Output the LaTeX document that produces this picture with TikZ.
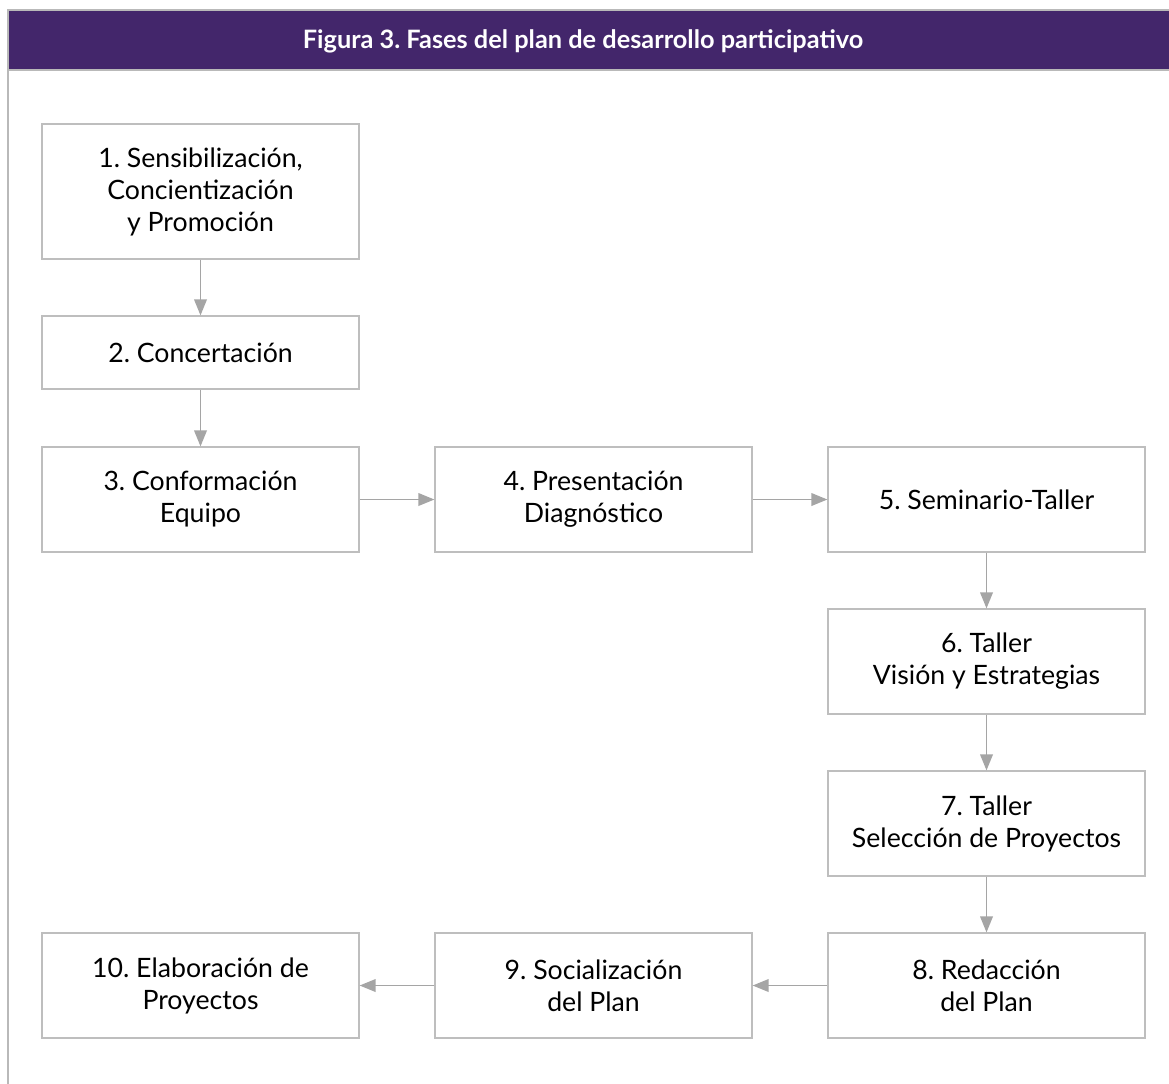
\documentclass[tikz,border=0pt]{standalone}
\usepackage{fontspec}
\setmainfont{Lato}
\usetikzlibrary{arrows.meta}
\definecolor{npurple}{RGB}{67, 38, 107}
\definecolor{nframe}{RGB}{185, 185, 185}
\definecolor{nbox}{RGB}{190, 190, 190}
\definecolor{narrow}{RGB}{165, 165, 165}
\frenchspacing

\begin{document}
\begin{tikzpicture}[x=0.75pt, y=-0.75pt,
    phase/.style={draw=nbox, line width=0.9pt, align=center, inner sep=2pt,
        minimum width=237.75pt, font=\fontsize{20}{24}\selectfont},
    flow/.style={draw=narrow, line width=1.1pt, -{Triangle[length=12pt, width=9.5pt]}}]
    \useasboundingbox (0,0) rectangle (1169,1083);
    \draw [nframe, line width=1.2pt] (8,1090) -- (8,10);
    \draw [fill=npurple, draw=nframe, line width=1.2pt] (8,10) rectangle (1180,70);
    \node [text=white, font=\fontsize{19}{22}\selectfont\bfseries] (title) at (583,41) {Figura 3. Fases del plan de desarrollo participativo};

    \node [phase, minimum height=101.25pt] (p1) at (200.5,191.5) {1. Sensibilización,\\Concientización\\y Promoción};
    \node [phase, minimum height=54.75pt] (p2) at (200.5,352.5) {2. Concertación};
    \node [phase, minimum height=78.75pt] (p3) at (200.5,499.5) {3. Conformación\\Equipo};
    \node [phase, minimum height=78.75pt] (p4) at (593.5,499.5) {4. Presentación\\Diagnóstico};
    \node [phase, minimum height=78.75pt] (p5) at (986.5,499.5) {5. Seminario-Taller};
    \node [phase, minimum height=78.75pt] (p6) at (986.5,661.5) {6. Taller\\Visión y Estrategias};
    \node [phase, minimum height=78.75pt] (p7) at (986.5,823.5) {7. Taller\\Selección de Proyectos};
    \node [phase, minimum height=78.75pt] (p8) at (986.5,985.5) {8. Redacción\\del Plan};
    \node [phase, minimum height=78.75pt] (p9) at (593.5,985.5) {9. Socialización\\del Plan};
    \node [phase, minimum height=78.75pt] (p10) at (200.5,985.5) {10. Elaboración de\\Proyectos};

    \draw [flow] (p1) -- (p2);
    \draw [flow] (p2) -- (p3);
    \draw [flow] (p3) -- (p4);
    \draw [flow] (p4) -- (p5);
    \draw [flow] (p5) -- (p6);
    \draw [flow] (p6) -- (p7);
    \draw [flow] (p7) -- (p8);
    \draw [flow] (p8) -- (p9);
    \draw [flow] (p9) -- (p10);
\end{tikzpicture}
\end{document}
